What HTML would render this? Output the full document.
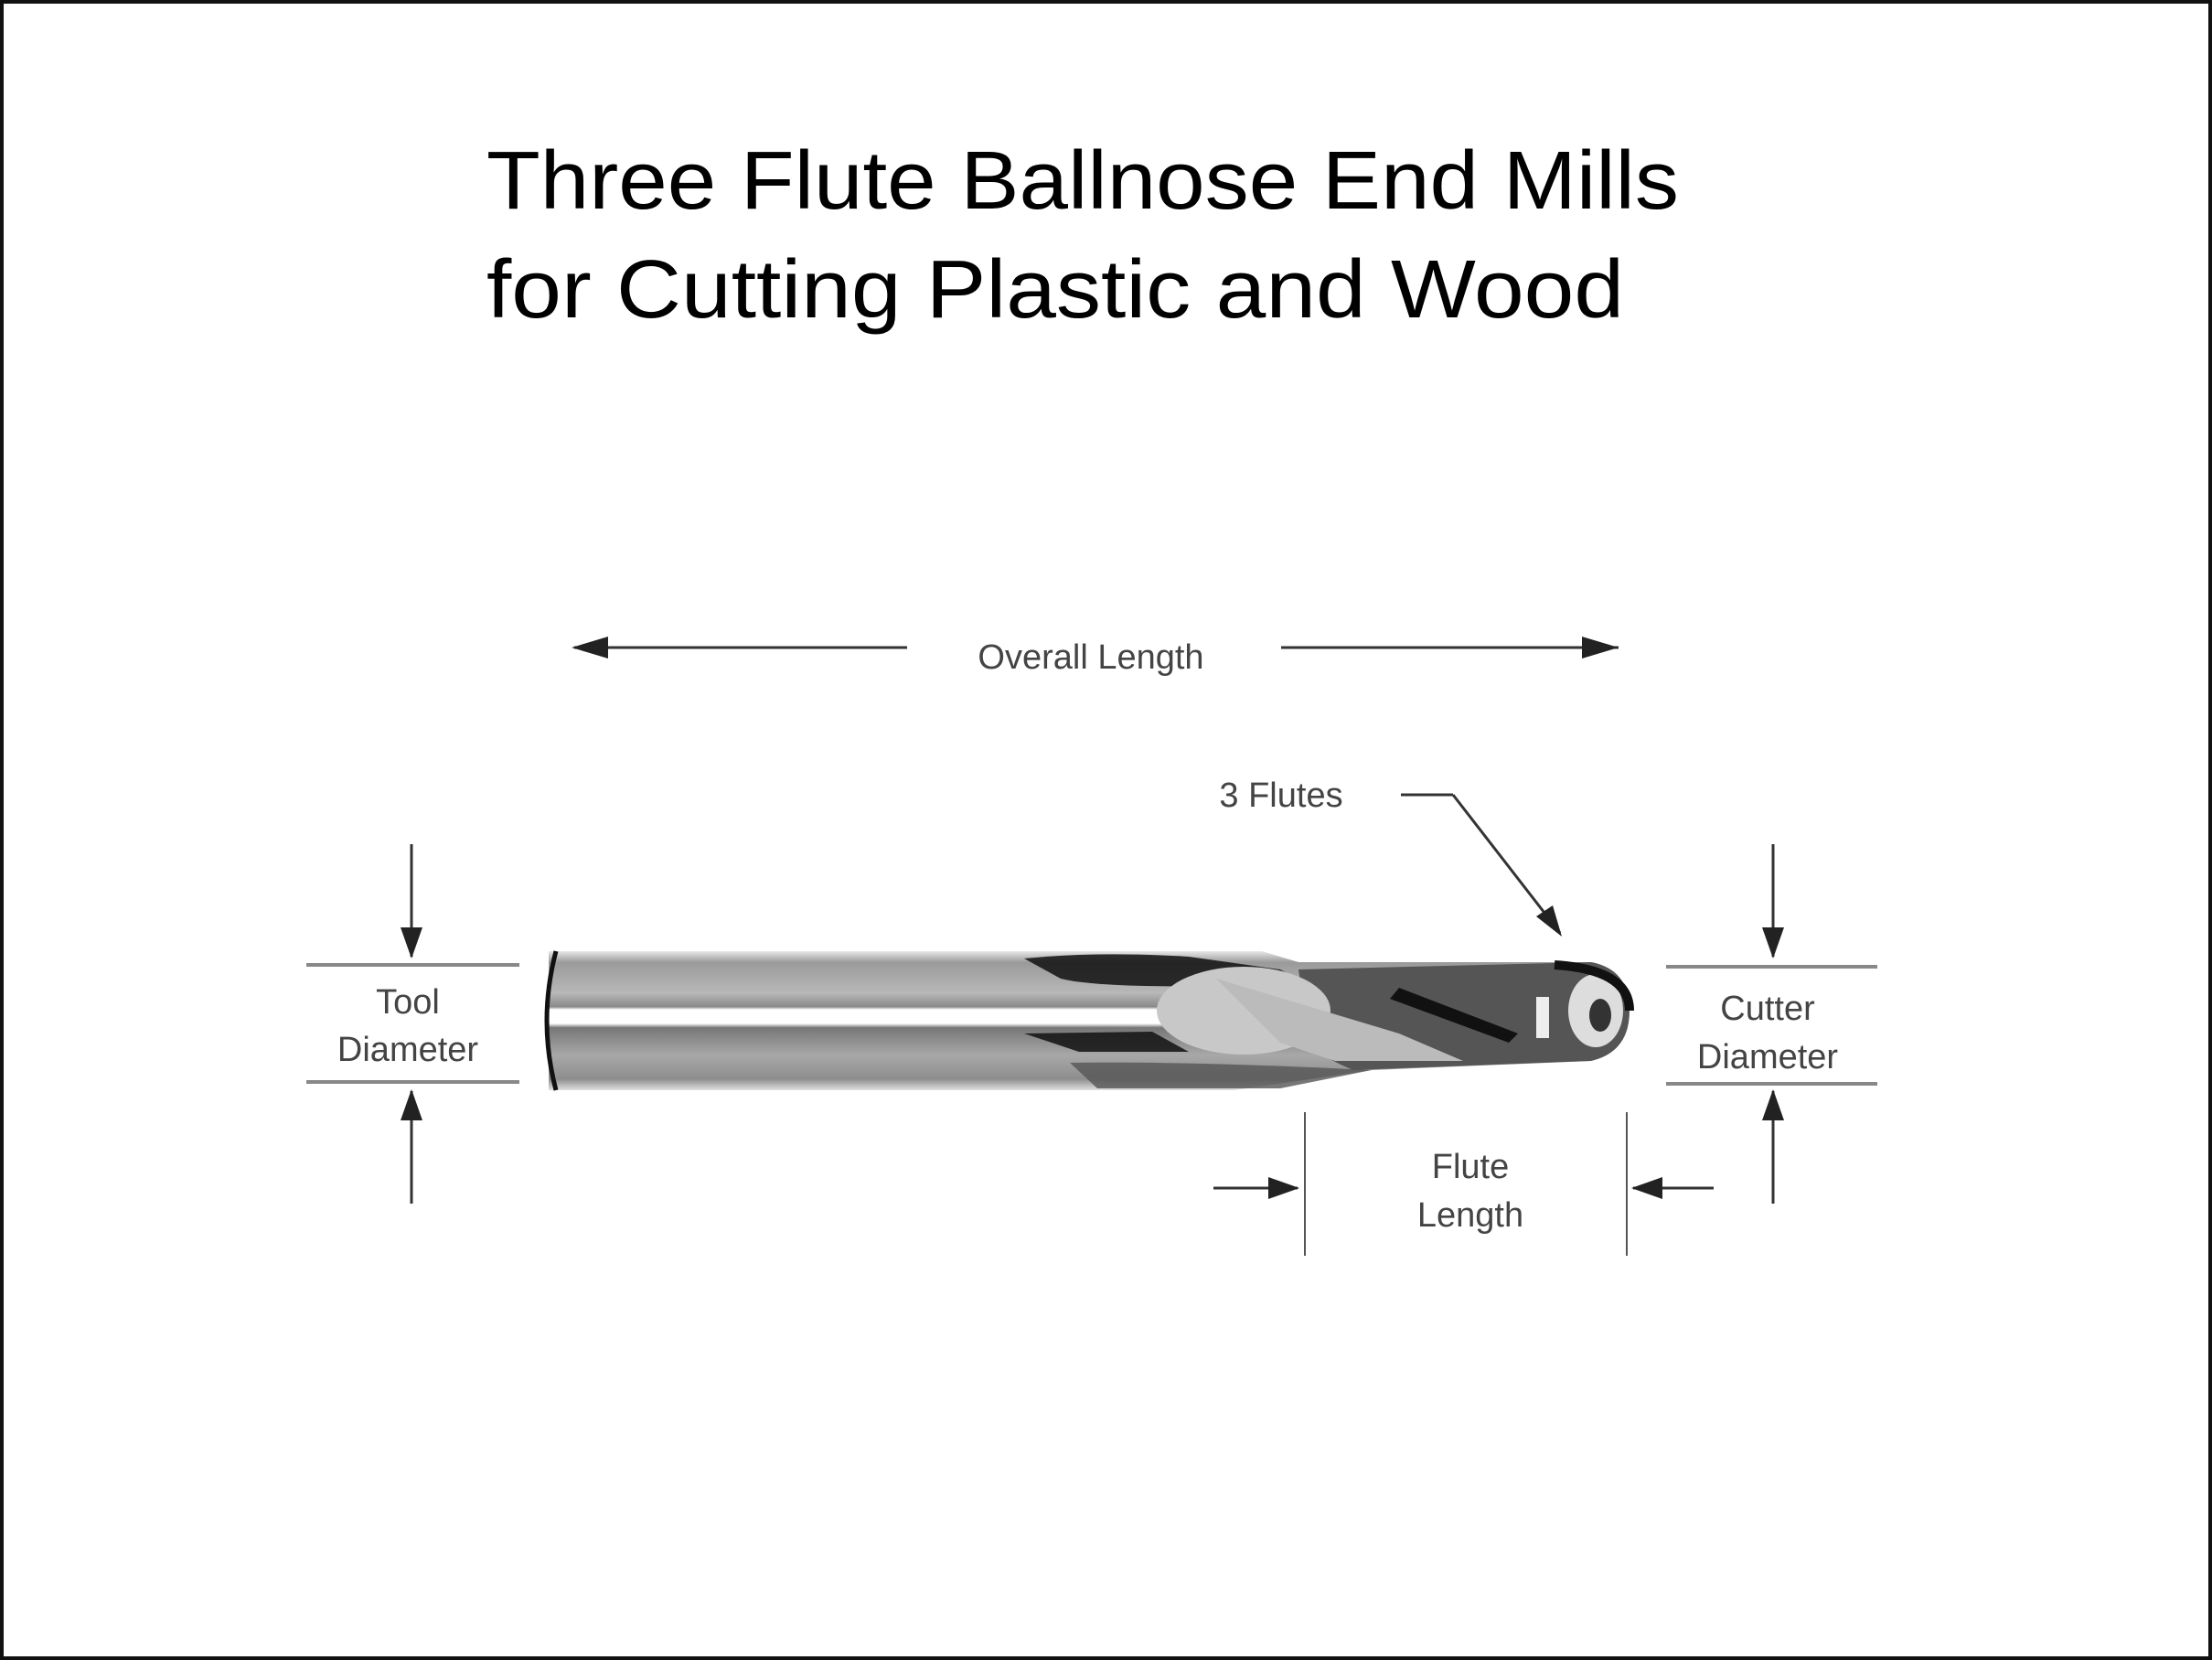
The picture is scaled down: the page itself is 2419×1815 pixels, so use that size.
<!DOCTYPE html>
<html><head><meta charset="utf-8"><style>
html,body{margin:0;padding:0;background:#fff}
svg{display:block}
</style></head><body>
<svg width="2419" height="1815" viewBox="0 0 2419 1815" xmlns="http://www.w3.org/2000/svg">
<defs>
<linearGradient id="shank" x1="0" y1="0" x2="0" y2="1">
<stop offset="0" stop-color="#e8e8e8"/>
<stop offset="0.08" stop-color="#9a9a9a"/>
<stop offset="0.3" stop-color="#b8b8b8"/>
<stop offset="0.4" stop-color="#8a8a8a"/>
<stop offset="0.42" stop-color="#ffffff"/>
<stop offset="0.52" stop-color="#ffffff"/>
<stop offset="0.55" stop-color="#777"/>
<stop offset="0.75" stop-color="#a8a8a8"/>
<stop offset="0.92" stop-color="#8e8e8e"/>
<stop offset="1" stop-color="#e0e0e0"/>
</linearGradient>
<marker id="ah" viewBox="0 0 10 10" refX="10" refY="5" markerWidth="10" markerHeight="10" markerUnits="userSpaceOnUse" orient="auto"><path d="M0,0 L10,5 L0,10 z" fill="#222"/></marker>
</defs>
<rect x="2" y="2" width="2415" height="1811" fill="#fff" stroke="#111" stroke-width="4"/>
<g font-family="Liberation Sans, sans-serif" fill="#000">
<text x="532" y="228" font-size="90" textLength="1304" lengthAdjust="spacingAndGlyphs">Three Flute Ballnose End Mills</text>
<text x="532" y="347" font-size="90" textLength="1244" lengthAdjust="spacingAndGlyphs">for Cutting Plastic and Wood</text>
</g>
<g stroke="#333" stroke-width="3" fill="none">
<line x1="992" y1="708" x2="628" y2="708"/>
<line x1="1401" y1="708" x2="1770" y2="708"/>
<line x1="1532" y1="869" x2="1589" y2="869"/>
<line x1="1589" y1="869" x2="1706" y2="1020"/>
<line x1="450" y1="923" x2="450" y2="1046"/>
<line x1="450" y1="1316" x2="450" y2="1193"/>
<line x1="1939" y1="923" x2="1939" y2="1046"/>
<line x1="1939" y1="1316" x2="1939" y2="1193"/>
<line x1="1327" y1="1299" x2="1419" y2="1299"/>
<line x1="1874" y1="1299" x2="1786" y2="1299"/>
</g>
<g fill="#222">
<path d="M625,708 L665,696 L665,720 z"/>
<path d="M1770,708 L1730,696 L1730,720 z"/>
<path d="M1708,1024 L1680,1002 L1698,990 z"/>
<path d="M450,1048 L438,1014 L462,1014 z"/>
<path d="M450,1191 L438,1225 L462,1225 z"/>
<path d="M1939,1048 L1927,1014 L1951,1014 z"/>
<path d="M1939,1191 L1927,1225 L1951,1225 z"/>
<path d="M1421,1299 L1387,1287 L1387,1311 z"/>
<path d="M1784,1299 L1818,1287 L1818,1311 z"/>
</g>
<g stroke="#888" stroke-width="4">
<line x1="335" y1="1055" x2="568" y2="1055"/>
<line x1="335" y1="1183" x2="568" y2="1183"/>
<line x1="1822" y1="1057" x2="2053" y2="1057"/>
<line x1="1822" y1="1185" x2="2053" y2="1185"/>
</g>
<g stroke="#555" stroke-width="2">
<line x1="1427" y1="1216" x2="1427" y2="1373"/>
<line x1="1779" y1="1216" x2="1779" y2="1373"/>
</g>
<g font-family="Liberation Sans, sans-serif" font-size="38" fill="#444" text-anchor="middle">
<text x="1193" y="731">Overall Length</text>
<text x="1401" y="882">3 Flutes</text>
<text x="446" y="1108">Tool</text>
<text x="446" y="1160">Diameter</text>
<text x="1933" y="1115">Cutter</text>
<text x="1933" y="1168">Diameter</text>
<text x="1608" y="1288">Flute</text>
<text x="1608" y="1341">Length</text>
</g>
<!-- tool body -->
<path d="M600,1040 L1380,1040 L1420,1052 L1740,1052 Q1782,1060 1782,1105 Q1782,1150 1740,1160 L1500,1170 L1350,1192 L600,1192 z" fill="url(#shank)"/>
<path d="M1120,1048 Q1200,1040 1300,1046 L1400,1060 L1420,1070 L1330,1078 Q1200,1080 1160,1070 z" fill="#111" opacity="0.85"/>
<path d="M1120,1130 L1260,1128 L1300,1150 L1180,1150 z" fill="#111" opacity="0.85"/>
<path d="M1170,1162 Q1300,1160 1500,1170 L1400,1190 L1200,1190 z" fill="#555" opacity="0.8"/>
<path d="M1420,1060 L1740,1052 Q1782,1060 1782,1105 Q1782,1150 1740,1160 L1480,1170 Q1430,1150 1430,1130 z" fill="#555"/>
<ellipse cx="1360" cy="1105" rx="95" ry="48" fill="#c8c8c8"/>
<path d="M1330,1070 L1530,1130 L1600,1160 L1460,1160 L1400,1140 z" fill="#bbb"/>
<path d="M1530,1080 L1660,1130 L1650,1140 L1520,1092 z" fill="#111"/>
<ellipse cx="1745" cy="1105" rx="30" ry="40" fill="#ddd"/>
<ellipse cx="1750" cy="1110" rx="12" ry="18" fill="#333"/>
<rect x="1680" y="1090" width="14" height="45" fill="#eee"/>
<path d="M1700,1055 Q1782,1060 1782,1105" stroke="#111" stroke-width="10" fill="none"/>
<path d="M608,1040 Q588,1116 608,1192" stroke="#111" stroke-width="5" fill="none"/>
</svg>
</body></html>
